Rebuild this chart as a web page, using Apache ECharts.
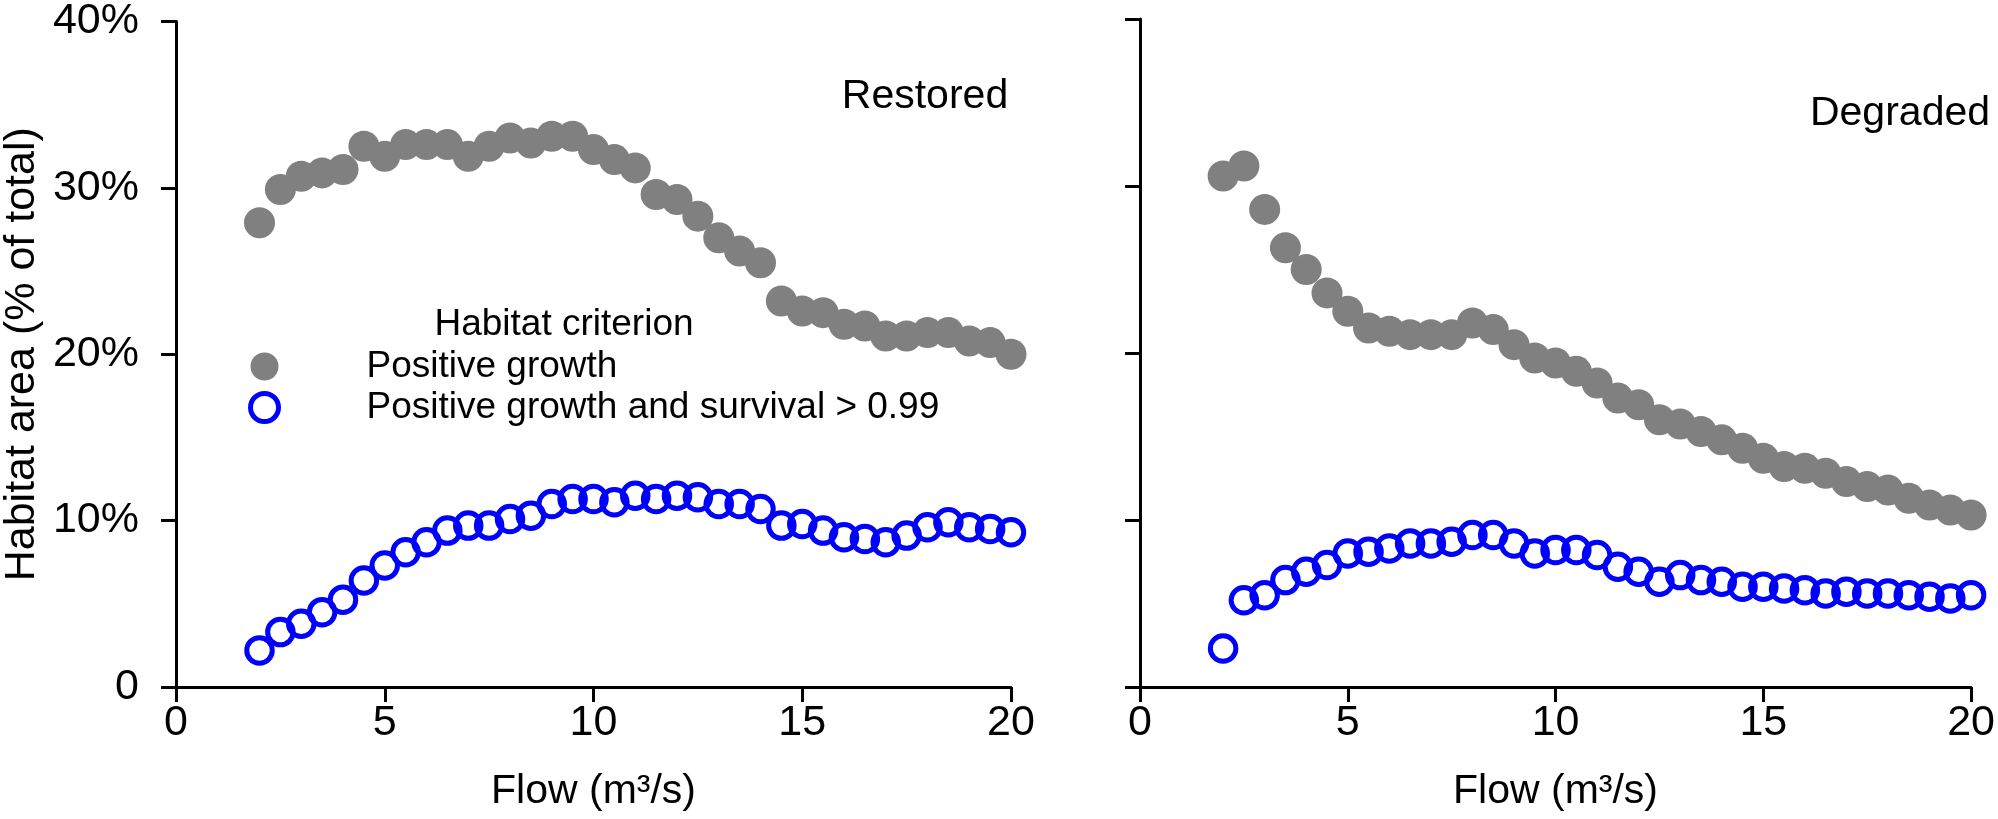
<!DOCTYPE html>
<html>
<head>
<meta charset="utf-8">
<title>Habitat area vs flow</title>
<script src="https://cdn.jsdelivr.net/npm/echarts@6/dist/echarts.min.js"></script>
<style>
  html, body { margin: 0; padding: 0; background: #fff; }
  #chart { width: 1998px; height: 819px; }
</style>
</head>
<body>
<div id="chart"></div>
<script>
// flow values (m3/s), shared by every series
const flow = [2, 2.5, 3, 3.5, 4, 4.5, 5, 5.5, 6, 6.5, 7, 7.5, 8, 8.5, 9, 9.5, 10, 10.5, 11,
  11.5, 12, 12.5, 13, 13.5, 14, 14.5, 15, 15.5, 16, 16.5, 17, 17.5, 18, 18.5, 19, 19.5, 20];

// habitat area, % of total
const restoredGrowth = [27.9, 29.9, 30.7, 30.9, 31.1, 32.5, 31.9, 32.6, 32.6, 32.6, 31.9, 32.5, 33.0,
  32.7, 33.1, 33.1, 32.3, 31.7, 31.2, 29.6, 29.3, 28.3, 27.0, 26.2, 25.5, 23.2, 22.6, 22.5, 21.8,
  21.7, 21.1, 21.1, 21.3, 21.3, 20.8, 20.7, 20.0];
const restoredSurvival = [2.2, 3.3, 3.8, 4.5, 5.25, 6.4, 7.3, 8.1, 8.7, 9.4, 9.7, 9.7, 10.1, 10.3,
  11.0, 11.3, 11.3, 11.1, 11.5, 11.3, 11.5, 11.4, 11.0, 11.0, 10.7, 9.7, 9.8, 9.4, 9.0, 8.9, 8.7,
  9.1, 9.6, 9.9, 9.6, 9.5, 9.3];
const degradedGrowth = [30.6, 31.2, 28.6, 26.3, 25.0, 23.6, 22.5, 21.5, 21.3, 21.1, 21.1, 21.1, 21.8,
  21.4, 20.5, 19.7, 19.4, 18.9, 18.2, 17.3, 16.9, 16.0, 15.75, 15.3, 14.8, 14.3, 13.7, 13.2, 13.1,
  12.8, 12.3, 12.0, 11.8, 11.3, 10.9, 10.6, 10.3];
const degradedSurvival = [2.3, 5.2, 5.5, 6.4, 6.9, 7.3, 8.0, 8.1, 8.3, 8.6, 8.6, 8.7, 9.1, 9.1, 8.6,
  8.0, 8.2, 8.2, 7.9, 7.2, 6.9, 6.3, 6.7, 6.4, 6.3, 6.0, 6.0, 5.9, 5.8, 5.6, 5.7, 5.6, 5.6, 5.5,
  5.4, 5.3, 5.5];

const xTicks = [0, 5, 10, 15, 20];
const yTicks = [0, 10, 20, 30, 40];

const FONT = 'Liberation Sans, Arial, sans-serif';
const GREY = '#808080';
const BLUE = '#0000ff';

const pairs = (ys) => flow.map((x, i) => [x, ys[i]]);

function xAxis(gridIndex) {
  return {
    type: 'value', gridIndex, min: xTicks[0], max: xTicks[xTicks.length - 1], interval: 5,
    name: 'Flow (m³/s)', nameLocation: 'middle', nameGap: 84,
    nameTextStyle: { fontSize: 41, color: '#000', fontFamily: FONT },
    axisLine: { lineStyle: { color: '#000', width: 3 } },
    axisTick: { length: 15, lineStyle: { color: '#000', width: 3 } },
    axisLabel: { fontSize: 43, color: '#000', fontFamily: FONT, margin: 15 },
    splitLine: { show: false }
  };
}

function yAxis(gridIndex, labels) {
  return {
    type: 'value', gridIndex, min: yTicks[0], max: yTicks[yTicks.length - 1], interval: 10,
    name: labels ? 'Habitat area (% of total)' : '', nameLocation: 'middle', nameGap: 132,
    nameTextStyle: { fontSize: 43, color: '#000', fontFamily: FONT },
    axisLine: { show: true, lineStyle: { color: '#000', width: 3 } },
    axisTick: { show: true, length: 15, lineStyle: { color: '#000', width: 3 } },
    axisLabel: {
      show: labels, fontSize: 43, color: '#000', fontFamily: FONT, margin: 37,
      formatter: (v) => (v === 0 ? '0' : v + '%')
    },
    splitLine: { show: false }
  };
}

function growth(name, ys, idx) {
  return {
    name, type: 'scatter', xAxisIndex: idx, yAxisIndex: idx, data: pairs(ys),
    symbol: 'circle', symbolSize: 31,
    itemStyle: { color: GREY, opacity: 1 }
  };
}

function survival(name, ys, idx) {
  return {
    name, type: 'scatter', xAxisIndex: idx, yAxisIndex: idx, data: pairs(ys),
    symbol: 'circle', symbolSize: 25.5,
    itemStyle: { color: 'rgba(0,0,0,0)', borderColor: BLUE, borderWidth: 5, opacity: 1 }
  };
}

const chart = echarts.init(document.getElementById('chart'));
chart.setOption({
  animation: false,
  backgroundColor: '#fff',
  textStyle: { fontFamily: FONT },
  grid: [
    { left: 173, top: 19, width: 838, height: 668 },
    { left: 1140, top: 19, width: 839, height: 668 }
  ],
  xAxis: [xAxis(0), xAxis(1)],
  yAxis: [yAxis(0, true), yAxis(1, false)],
  legend: {
    orient: 'vertical', left: 243, top: 343,
    itemWidth: 28, itemHeight: 28, itemGap: 4,
    textStyle: { fontSize: 37, color: '#000', fontFamily: FONT, padding: [0, 0, 0, 83], lineHeight: 28 },
    data: [
      { name: 'Positive growth' },
      { name: 'Positive growth and survival > 0.99', itemStyle: { borderWidth: 5 } }
    ]
  },
  graphic: [
    { type: 'text', x: 925, y: 97, style: { text: 'Restored', font: '41px ' + FONT, fill: '#000', align: 'center', verticalAlign: 'middle' } },
    { type: 'text', x: 1900, y: 114, style: { text: 'Degraded', font: '41px ' + FONT, fill: '#000', align: 'center', verticalAlign: 'middle' } },
    { type: 'text', x: 564, y: 325, style: { text: 'Habitat criterion', font: '37px ' + FONT, fill: '#000', align: 'center', verticalAlign: 'middle' } }
  ],
  series: [
    growth('Positive growth', restoredGrowth, 0),
    survival('Positive growth and survival > 0.99', restoredSurvival, 0),
    growth('Positive growth', degradedGrowth, 1),
    survival('Positive growth and survival > 0.99', degradedSurvival, 1)
  ]
});
</script>
</body>
</html>
